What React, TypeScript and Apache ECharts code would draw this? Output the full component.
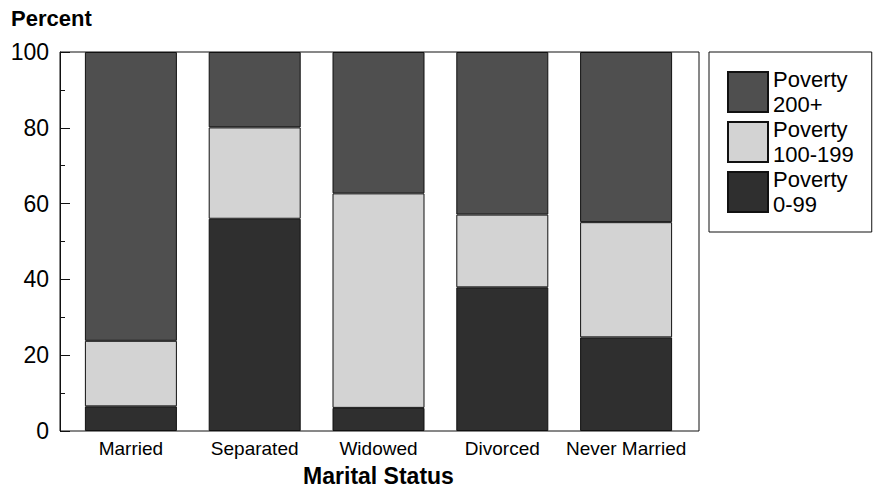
import React, { useEffect, useRef } from "react";
import * as echarts from "echarts";

const categories = ["Married", "Separated", "Widowed", "Divorced", "Never Married"];
const poverty0to99 = [6.5, 56.0, 6.1, 37.9, 24.7];
const poverty100to199 = [17.3, 24.1, 56.6, 19.2, 30.4];
const poverty200plus = [76.2, 19.9, 37.3, 42.9, 44.9];
const yTicks = { min: 0, max: 100, interval: 20 };

const FONT = "'Liberation Sans', Arial, Helvetica, sans-serif";

export default function App() {
  const ref = useRef<HTMLDivElement>(null);
  useEffect(() => {
    document.body.style.margin = "0";
    const chart = echarts.init(ref.current!, null, { renderer: "svg" });
    const border = { borderColor: "#111", borderWidth: 1 };
    chart.setOption({
      animation: false,
      backgroundColor: "#fff",
      textStyle: { fontFamily: FONT, color: "#000" },
      graphic: [
        {
          type: "text",
          left: 11,
          top: 7,
          style: { text: "Percent", font: `bold 22px ${FONT}`, fill: "#000" },
        },
      ],
      grid: [
        { left: 60, right: 177, top: 52, bottom: 57, show: true, borderColor: "#111", borderWidth: 1, backgroundColor: "transparent", outerBoundsMode: "none", containLabel: false },
        { left: 69, right: 188, top: 52, bottom: 57, outerBoundsMode: "none", containLabel: false },
      ],
      xAxis: [
        { gridIndex: 0, type: "value", show: false, min: 0, max: 1 },
        {
          gridIndex: 1,
          type: "category",
          data: categories,
          axisLine: { show: false },
          axisTick: { show: false },
          axisLabel: { fontSize: 19, color: "#000", margin: 8, fontFamily: FONT, interval: 0 },
          name: "Marital Status",
          nameLocation: "middle",
          nameGap: 33,
          nameTextStyle: { fontSize: 23, fontWeight: "bold", color: "#000", fontFamily: FONT },
        },
      ],
      yAxis: [
        {
          gridIndex: 0,
          type: "value",
          min: yTicks.min,
          max: yTicks.max,
          interval: yTicks.interval,
          axisLine: { show: true, lineStyle: { color: "#111", width: 1 } },
          axisTick: { show: true, inside: true, length: 10, lineStyle: { color: "#111" } },
          minorTick: { show: true, splitNumber: 2, length: 5, lineStyle: { color: "#111" } },
          splitLine: { show: false },
          axisLabel: { fontSize: 23, color: "#000", margin: 11, fontFamily: FONT },
        },
        { gridIndex: 1, type: "value", min: yTicks.min, max: yTicks.max, show: false },
      ],
      legend: {
        orient: "vertical",
        left: 709,
        top: 52,
        padding: [15, 18, 15, 18],
        borderColor: "#111",
        borderWidth: 1,
        itemWidth: 40,
        itemHeight: 40,
        itemGap: 0,
        itemTextGap: 16,
        icon: "rect",
        data: ["Poverty 200+", "Poverty 100-199", "Poverty 0-99"],
        formatter: (n: string) => n.replace(" ", "\n"),
        textStyle: { fontSize: 22, lineHeight: 25, color: "#000", fontFamily: FONT },
      },
      series: [
        {
          name: "Poverty 0-99",
          type: "bar",
          stack: "all",
          xAxisIndex: 1,
          yAxisIndex: 1,
          barWidth: 92,
          data: poverty0to99,
          itemStyle: { color: "#2f2f2f", ...border },
        },
        {
          name: "Poverty 100-199",
          type: "bar",
          stack: "all",
          xAxisIndex: 1,
          yAxisIndex: 1,
          barWidth: 92,
          data: poverty100to199,
          itemStyle: { color: "#d3d3d3", ...border },
        },
        {
          name: "Poverty 200+",
          type: "bar",
          stack: "all",
          xAxisIndex: 1,
          yAxisIndex: 1,
          barWidth: 92,
          data: poverty200plus,
          itemStyle: { color: "#4f4f4f", ...border },
        },
      ],
    });
    return () => chart.dispose();
  }, []);
  return <div ref={ref} style={{ width: 876, height: 488 }} />;
}
